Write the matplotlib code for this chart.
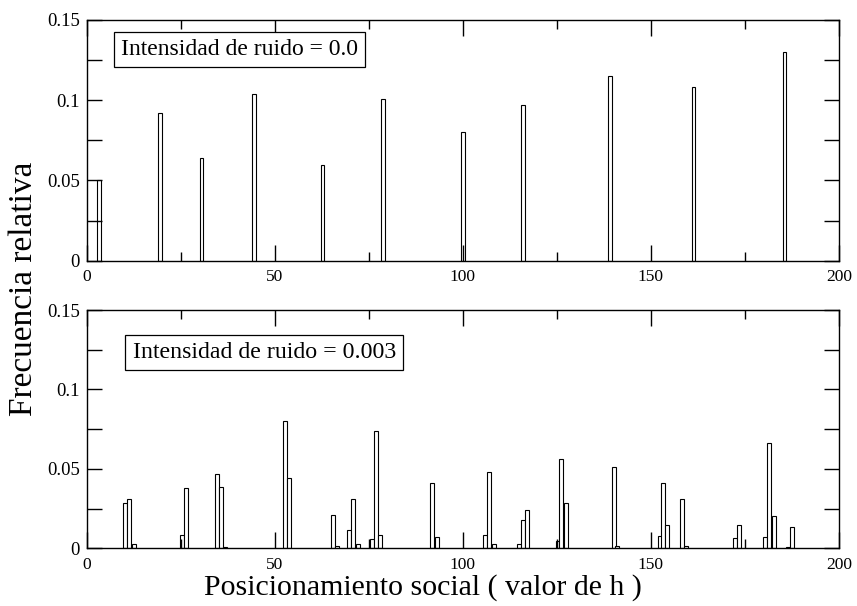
import matplotlib
matplotlib.use("Agg")
import matplotlib.pyplot as plt
from matplotlib.ticker import MultipleLocator, FuncFormatter

plt.rcParams['font.family'] = ['Liberation Serif', 'DejaVu Serif']

# Histogram without noise
pos_sin_ruido = [3.3, 19.5, 30.5, 44.5, 62.7, 78.8, 100.0, 116.0, 139.1, 161.3, 185.5]
frec_sin_ruido = [0.050, 0.092, 0.064, 0.104, 0.0596, 0.101, 0.080, 0.097, 0.115, 0.108, 0.130]

# Histogram with noise intensity 0.003
pos_ruido = [10.2, 11.25, 12.5, 25.35, 26.5, 34.65, 35.7, 36.7, 52.8, 53.85,
             65.6, 66.6, 69.85, 70.9, 72.0, 75.8, 76.8, 77.9, 91.9, 93.0,
             105.8, 107.0, 108.2, 115.0, 116.0, 117.1, 125.2, 126.2, 127.3,
             140.1, 141.1, 152.3, 153.3, 154.3, 158.2, 159.3, 172.3, 173.4,
             180.2, 181.5, 182.7, 186.5, 187.6]
frec_ruido = [0.0287, 0.031, 0.003, 0.0084, 0.038, 0.0466, 0.0388, 0.0006, 0.080, 0.0445,
              0.021, 0.0015, 0.0115, 0.031, 0.003, 0.006, 0.0739, 0.0084, 0.0411, 0.0069,
              0.0086, 0.0482, 0.003, 0.003, 0.0178, 0.0241, 0.0046, 0.056, 0.0287,
              0.0512, 0.0017, 0.0077, 0.0411, 0.0147, 0.031, 0.0017, 0.0063, 0.0147,
              0.0069, 0.0661, 0.0203, 0.0006, 0.0132]


def estilo_ejes(ax):
    ax.set_xlim(0, 200)
    ax.set_ylim(0, 0.15)
    for s in ax.spines.values():
        s.set_linewidth(1.0)
    ax.xaxis.set_major_locator(MultipleLocator(50))
    ax.xaxis.set_minor_locator(MultipleLocator(25))
    ax.yaxis.set_major_locator(MultipleLocator(0.05))
    ax.yaxis.set_minor_locator(MultipleLocator(0.025))
    ax.yaxis.set_major_formatter(FuncFormatter(lambda v, p: "%g" % round(v, 3)))
    ax.tick_params(which='both', direction='in', top=True, right=True, width=1.0,
                   color='black')
    ax.tick_params(axis='x', which='major', length=11.5, pad=6, labelsize=12.5)
    ax.tick_params(axis='x', which='minor', length=6.5)
    ax.tick_params(axis='y', which='both', length=11, pad=5, labelsize=13.5)


fig = plt.figure(figsize=(8.57, 6.06), dpi=100)

ax1 = fig.add_axes([0.1012, 0.5698, 0.8778, 0.3972])
ax1.bar(pos_sin_ruido, frec_sin_ruido, width=1.0, facecolor='white',
        edgecolor='black', linewidth=0.8)
estilo_ejes(ax1)
ax1.text(0.046, 0.877, "Intensidad de ruido = 0.0", transform=ax1.transAxes,
         fontsize=17, va='center', ha='left',
         bbox=dict(boxstyle='square,pad=0.3', facecolor='white',
                   edgecolor='black', linewidth=0.9))

ax2 = fig.add_axes([0.1012, 0.0952, 0.8778, 0.3932])
ax2.bar(pos_ruido, frec_ruido, width=1.05, facecolor='white',
        edgecolor='black', linewidth=0.8)
estilo_ejes(ax2)
ax2.text(0.061, 0.823, "Intensidad de ruido = 0.003", transform=ax2.transAxes,
         fontsize=17.2, va='center', ha='left',
         bbox=dict(boxstyle='square,pad=0.3', facecolor='white',
                   edgecolor='black', linewidth=0.9))

fig.text(0.028, 0.523, "Frecuencia relativa", rotation=90, fontsize=24,
         ha='center', va='center')
fig.text(0.493, 0.0185, "Posicionamiento social ( valor de h )", fontsize=21.5,
         ha='center', va='baseline')

fig.savefig("out.png", dpi=100)
